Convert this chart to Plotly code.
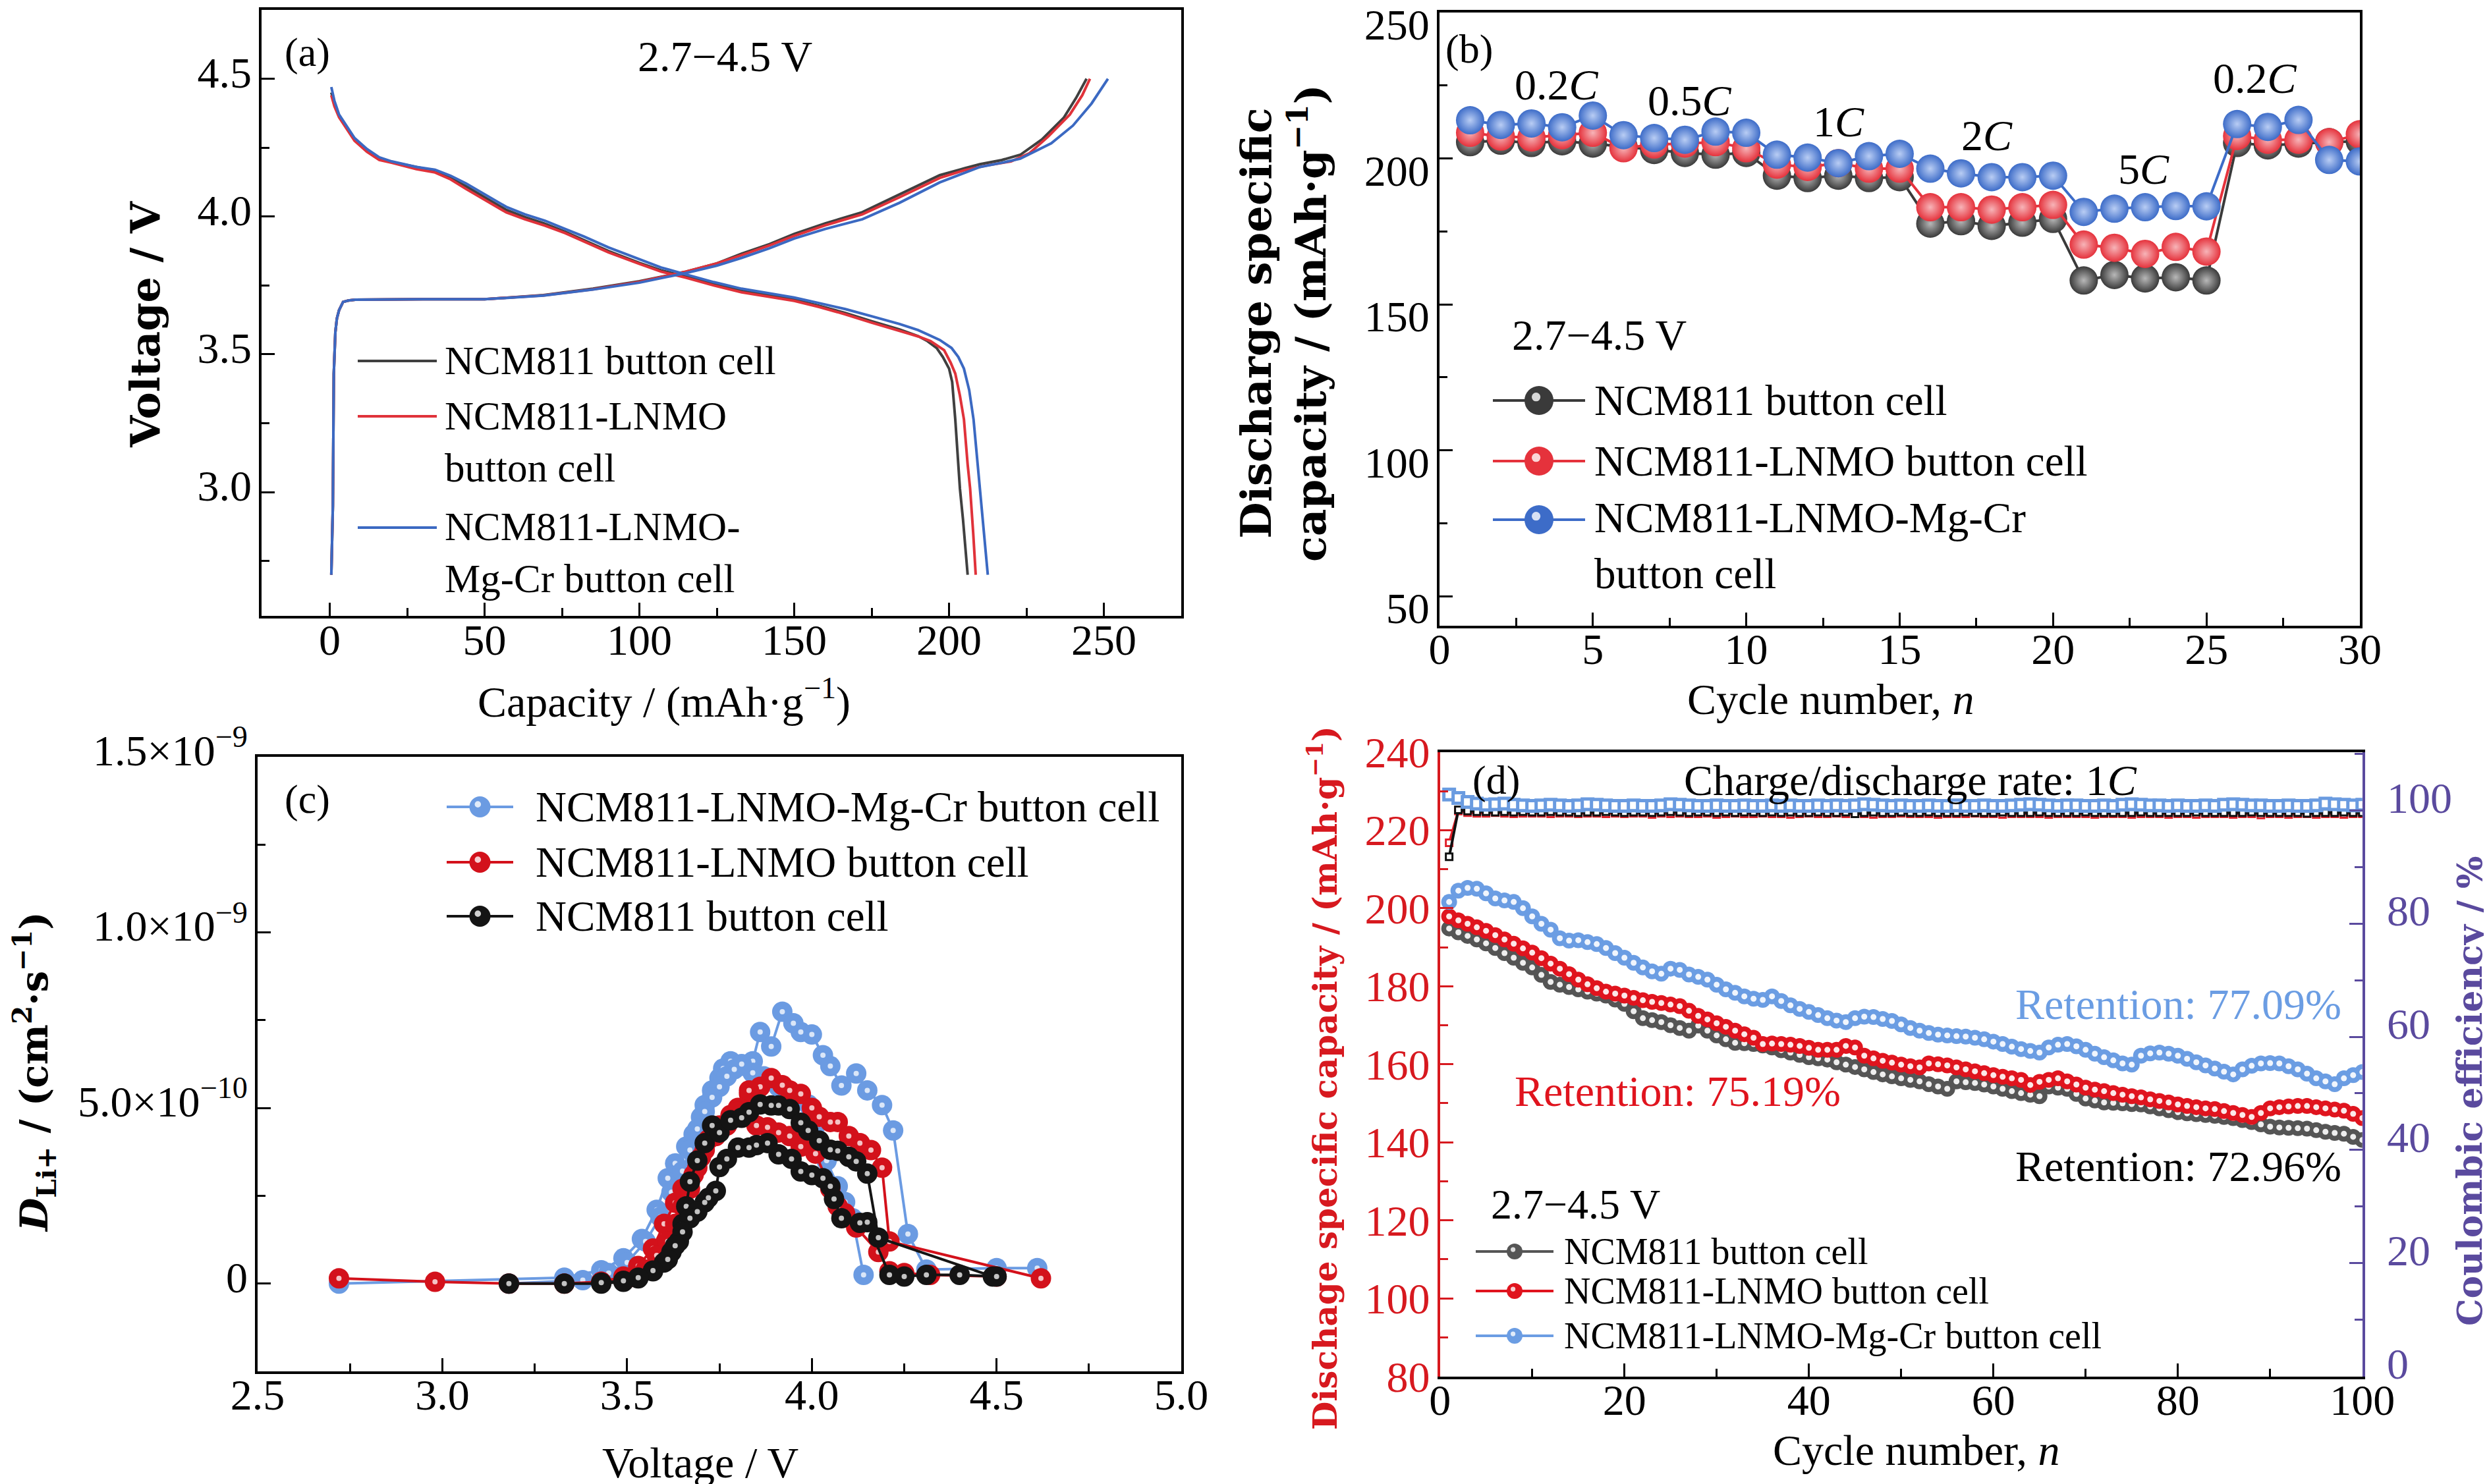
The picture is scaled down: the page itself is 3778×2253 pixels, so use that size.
import plotly.graph_objects as go

W, H = 3778, 2253
SERIF = 'Liberation Serif'
TITLE_FONT = 'DejaVu Serif'

# ---------------- (a) charge / discharge profiles, 2.7-4.5 V ----------------
a_ncm_chg_cap = [0.5, 1.0, 1.3, 1.8, 2.3, 3.0, 4.3, 6.0, 8.2, 15, 30, 50, 69, 85, 100, 115,
                 125, 133, 142, 150, 160, 172, 184, 197, 205, 210, 217, 223, 230, 237, 241, 244.4]
a_ncm_chg_v = [2.70, 2.95, 3.43, 3.58, 3.63, 3.66, 3.69, 3.695, 3.698, 3.699, 3.70, 3.70, 3.715,
               3.738, 3.765, 3.80, 3.83, 3.865, 3.90, 3.937, 3.975, 4.016, 4.08, 4.15, 4.175,
               4.19, 4.205, 4.224, 4.28, 4.358, 4.43, 4.5]
a_lnmo_chg_cap = [0.5, 1.0, 1.3, 1.8, 2.3, 3.0, 4.3, 6.0, 8.2, 15, 30, 50, 69, 85, 100, 115,
                  125, 133, 142, 150, 160, 172, 184, 197, 205, 212, 220, 226, 232, 239, 243, 245.5]
a_lnmo_chg_v = [2.70, 2.95, 3.43, 3.58, 3.63, 3.66, 3.69, 3.695, 3.698, 3.699, 3.70, 3.70, 3.714,
                3.736, 3.763, 3.80, 3.83, 3.86, 3.895, 3.93, 3.968, 4.008, 4.07, 4.14, 4.168,
                4.185, 4.20, 4.23, 4.29, 4.37, 4.44, 4.5]
a_mgcr_chg_cap = [0.5, 1.0, 1.3, 1.8, 2.3, 3.0, 4.3, 6.0, 8.2, 15, 30, 50, 69, 85, 100, 115,
                  125, 133, 142, 150, 160, 172, 184, 197, 205, 210, 217, 223, 233, 240, 246, 251.3]
a_mgcr_chg_v = [2.70, 2.95, 3.43, 3.58, 3.63, 3.66, 3.69, 3.695, 3.698, 3.699, 3.70, 3.70, 3.713,
                3.735, 3.76, 3.795, 3.822, 3.85, 3.885, 3.92, 3.955, 3.99, 4.05, 4.124, 4.16,
                4.18, 4.195, 4.21, 4.266, 4.33, 4.41, 4.5]

a_ncm_dis_cap = [0.5, 1.5, 3, 5, 8, 12, 16, 20, 23.5, 28, 34, 39, 44, 50, 57, 63, 69.5, 76, 82,
                 90, 100, 107, 115, 124, 133, 141, 150, 158, 166.5, 175, 184, 190, 193, 196,
                 198, 200, 201, 202, 203, 203.5, 204.5, 205.3, 206]
a_ncm_dis_v = [4.45, 4.41, 4.366, 4.33, 4.28, 4.24, 4.21, 4.198, 4.19, 4.178, 4.166, 4.14, 4.11,
               4.07, 4.024, 3.998, 3.974, 3.945, 3.915, 3.875, 3.832, 3.805, 3.782, 3.755, 3.73,
               3.715, 3.698, 3.676, 3.65, 3.62, 3.59, 3.566, 3.548, 3.523, 3.49, 3.448, 3.40,
               3.264, 3.10, 3.013, 2.90, 2.80, 2.70]
a_lnmo_dis_cap = [0.5, 1.5, 3, 5, 8, 12, 16, 20, 23.5, 28, 34, 39, 44, 50, 57, 63, 69.5, 76, 82,
                  90, 100, 107, 115, 124, 133, 141, 150, 158, 166.5, 175, 184, 190, 194, 198.4,
                  200.5, 202, 203.5, 204.8, 206, 206.8, 207.8, 208.6]
a_lnmo_dis_v = [4.44, 4.40, 4.36, 4.325, 4.275, 4.235, 4.205, 4.195, 4.185, 4.172, 4.16, 4.135,
                4.10, 4.06, 4.015, 3.99, 3.967, 3.94, 3.91, 3.87, 3.828, 3.80, 3.778, 3.75,
                3.725, 3.71, 3.694, 3.672, 3.645, 3.615, 3.585, 3.565, 3.548, 3.515, 3.47, 3.43,
                3.35, 3.264, 3.10, 3.013, 2.85, 2.70]
a_mgcr_dis_cap = [0.5, 1.5, 3, 5, 8, 12, 16, 20, 23.5, 28, 34, 39, 44, 50, 57, 63, 69.5, 76, 82,
                  90, 100, 107, 115, 124, 133, 141, 150, 158, 166.5, 175, 184, 190, 193, 197,
                  200.8, 203, 204.8, 206.5, 207.9, 209, 210, 211.3, 212.5]
a_mgcr_dis_v = [4.47, 4.42, 4.37, 4.335, 4.285, 4.245, 4.215, 4.20, 4.192, 4.18, 4.17, 4.148,
                4.12, 4.08, 4.035, 4.008, 3.985, 3.955, 3.928, 3.888, 3.845, 3.815, 3.79, 3.762,
                3.738, 3.722, 3.706, 3.686, 3.664, 3.638, 3.61, 3.588, 3.573, 3.552, 3.523,
                3.49, 3.448, 3.37, 3.264, 3.13, 3.013, 2.86, 2.70]

# ---------------- (b) rate capability ----------------
b_cycles = list(range(1, 31))
b_ncm = [205.6, 206.1, 205.3, 205.9, 205.1, 204.0, 202.9, 201.9, 201.3, 201.9,
         194.1, 193.3, 194.1, 193.3, 193.6, 177.7, 178.5, 176.9, 178.0, 179.3,
         158.2, 160.1, 158.9, 159.3, 158.2, 205.3, 204.5, 205.1, 205.6, 205.9]
b_lnmo = [208.8, 207.5, 207.2, 208.0, 208.8, 203.5, 204.8, 205.1, 205.6, 203.5,
          197.9, 197.1, 198.4, 196.5, 196.5, 183.3, 183.3, 182.5, 183.3, 184.1,
          170.5, 169.4, 167.3, 169.7, 168.1, 207.7, 206.4, 206.4, 205.6, 208.3]
b_mgcr = [213.1, 211.5, 212.0, 210.7, 214.7, 208.0, 207.0, 206.4, 209.2, 208.8,
          201.3, 200.3, 198.4, 200.8, 201.6, 196.5, 194.9, 193.6, 193.6, 194.1,
          181.7, 182.8, 183.3, 183.7, 183.6, 211.8, 210.8, 213.2, 199.5, 199.0]
b_rate_labels = ['0.2<i>C</i>', '0.5<i>C</i>', '1<i>C</i>', '2<i>C</i>', '5<i>C</i>', '0.2<i>C</i>']

# ---------------- (c) Li+ diffusion coefficient (x1e-10 cm2/s) ----------------
c_mgcr_chg_v = [2.72, 3.33, 3.43, 3.49, 3.54, 3.58, 3.61, 3.63, 3.66, 3.68, 3.70, 3.71, 3.73,
                3.75, 3.76, 3.78, 3.80, 3.82, 3.84, 3.86, 3.89, 3.92, 3.95, 3.97, 4.00, 4.03,
                4.05, 4.08, 4.12, 4.15, 4.19, 4.22, 4.26, 4.31, 4.50, 4.61]
c_mgcr_chg_d = [0.0, 0.17, 0.38, 0.72, 1.27, 2.10, 3.00, 3.42, 3.90, 4.25, 4.74, 5.08, 5.50,
                5.85, 6.12, 6.33, 6.20, 6.19, 6.33, 7.16, 6.75, 7.74, 7.41, 7.16, 7.09, 6.50,
                6.19, 5.64, 5.98, 5.50, 5.08, 4.36, 1.41, 0.40, 0.44, 0.44]
c_mgcr_dis_v = [4.14, 4.11, 4.09, 4.07, 4.04, 4.01, 3.99, 3.95, 3.91, 3.87, 3.84, 3.81, 3.79,
                3.77, 3.75, 3.73, 3.71, 3.69, 3.67, 3.65, 3.62, 3.59, 3.55, 3.50, 3.45, 3.38, 3.18]
c_mgcr_dis_d = [0.25, 1.86, 2.32, 2.77, 3.5, 4.5, 5.1, 5.4, 5.6, 5.9, 6.0, 6.25, 6.1, 5.9, 5.6,
                5.3, 4.9, 4.4, 3.8, 3.2, 2.6, 1.9, 1.2, 0.6, 0.3, 0.1, 0.0]
c_lnmo_chg_v = [2.72, 2.98, 3.18, 3.33, 3.43, 3.49, 3.53, 3.57, 3.60, 3.63, 3.65, 3.68, 3.70,
                3.72, 3.75, 3.78, 3.80, 3.83, 3.86, 3.89, 3.92, 3.94, 3.97, 4.00, 4.02, 4.05,
                4.07, 4.10, 4.13, 4.16, 4.19, 4.21, 4.62]
c_lnmo_chg_d = [0.15, 0.05, 0.0, 0.0, 0.05, 0.2, 0.5, 1.0, 1.7, 2.3, 2.7, 3.1, 3.6, 4.1, 4.5,
                4.8, 5.0, 5.4, 5.6, 5.85, 5.65, 5.5, 5.4, 5.0, 4.75, 4.6, 4.6, 4.2, 4.0, 3.8,
                3.3, 1.2, 0.15]
c_lnmo_dis_v = [4.50, 4.32, 4.25, 4.21, 4.18, 4.12, 4.09, 4.07, 4.05, 4.01, 3.97, 3.94, 3.91,
                3.88, 3.85, 3.83, 3.80, 3.77, 3.74, 3.71, 3.69, 3.67, 3.65, 3.63, 3.61, 3.58,
                3.55, 3.50, 3.43]
c_lnmo_dis_d = [0.2, 0.25, 0.3, 0.35, 0.9, 1.6, 2.0, 2.2, 2.7, 3.7, 3.9, 4.2, 4.3, 4.45, 4.5,
                5.5, 4.9, 4.5, 4.2, 3.8, 3.3, 2.7, 2.2, 1.7, 1.2, 0.8, 0.4, 0.15, 0.05]
c_ncm_chg_v = [3.18, 3.33, 3.43, 3.49, 3.53, 3.57, 3.60, 3.62, 3.64, 3.65, 3.66, 3.67, 3.69,
               3.71, 3.73, 3.75, 3.78, 3.81, 3.83, 3.86, 3.89, 3.91, 3.94, 3.97, 3.99, 4.02,
               4.05, 4.07, 4.10, 4.12, 4.15, 4.18, 4.49]
c_ncm_chg_d = [0.0, 0.0, 0.0, 0.05, 0.15, 0.35, 0.6, 0.9, 1.2, 1.7, 2.2, 2.9, 3.5, 4.0, 4.5,
               4.3, 4.65, 4.72, 4.88, 5.1, 5.07, 5.07, 4.97, 4.58, 4.36, 4.07, 3.81, 3.78, 3.61,
               3.48, 3.13, 1.31, 0.2]
c_ncm_dis_v = [4.50, 4.40, 4.31, 4.25, 4.21, 4.15, 4.13, 4.08, 4.06, 4.05, 4.03, 4.00, 3.97,
               3.945, 3.91, 3.88, 3.85, 3.83, 3.80, 3.77, 3.75, 3.74, 3.72, 3.71, 3.69, 3.67,
               3.65, 3.63, 3.61, 3.57, 3.53, 3.49, 3.43]
c_ncm_dis_d = [0.2, 0.25, 0.25, 0.2, 0.25, 1.75, 1.73, 1.86, 2.41, 2.77, 3.0, 3.09, 3.19, 3.55,
               3.68, 4.0, 3.94, 3.87, 3.87, 3.55, 3.32, 2.64, 2.44, 2.31, 2.05, 1.86, 1.47,
               1.08, 0.69, 0.37, 0.17, 0.08, 0.03]
c_ytick_vals = [0, 5, 10, 15]
c_ytick_text = ['0', '5.0×10<sup>−10</sup>', '1.0×10<sup>−9</sup>', '1.5×10<sup>−9</sup>']

# ---------------- (d) cycling at 1C ----------------
d_cycles = list(range(1, 101))
d_ncm_cap = [194.8, 193.8, 192.9, 192.0, 191.0, 189.8, 188.5, 187.3, 186.0, 184.8,
             182.9, 181.1, 180.4, 179.8, 179.2, 178.6, 178.1, 177.6, 176.6, 175.5,
             173.6, 171.8, 171.3, 170.8, 170.0, 169.3, 168.6, 169.9, 168.6, 167.4,
             166.4, 165.5, 165.4, 165.2, 164.8, 164.3, 163.6, 163.0, 162.4, 161.8,
             161.5, 161.2, 160.5, 159.9, 159.3, 158.7, 158.0, 157.4, 156.9, 156.4,
             156.0, 155.6, 154.9, 154.3, 153.7, 155.6, 155.4, 155.2, 154.8, 154.3,
             153.7, 153.1, 152.6, 152.2, 151.8, 154.3, 154.0, 153.7, 152.4, 151.2,
             150.7, 150.2, 150.1, 150.0, 149.8, 149.7, 149.2, 148.7, 148.2, 147.7,
             147.4, 147.2, 147.0, 146.8, 146.5, 146.2, 145.7, 145.2, 144.6, 144.0,
             143.8, 143.7, 143.6, 143.5, 143.1, 142.7, 142.4, 142.2, 141.4, 140.6]
d_lnmo_cap = [197.9, 196.9, 196.0, 195.1, 194.2, 193.1, 192.0, 190.9, 189.7, 188.6,
              187.2, 185.8, 184.5, 183.1, 181.7, 180.5, 179.5, 178.6, 178.1, 177.6,
              177.0, 176.4, 176.0, 175.7, 175.3, 174.9, 173.7, 172.4, 171.5, 170.5,
              169.6, 168.6, 167.7, 166.8, 165.2, 165.3, 165.2, 165.0, 164.7, 164.2,
              163.7, 163.7, 163.7, 164.7, 164.3, 162.2, 161.5, 160.9, 160.4, 159.9,
              159.5, 159.2, 160.2, 160.0, 159.7, 159.2, 158.7, 158.2, 157.7, 157.2,
              156.8, 156.4, 156.0, 154.7, 155.5, 156.0, 156.4, 155.6, 154.8, 154.0,
              153.5, 153.1, 152.6, 152.2, 151.8, 151.5, 151.0, 150.6, 150.2, 149.7,
              149.3, 149.0, 148.7, 148.5, 148.0, 147.5, 147.0, 146.5, 147.5, 148.7,
              149.0, 149.2, 149.3, 149.3, 149.0, 148.7, 148.4, 148.1, 147.3, 146.2]
d_mgcr_cap = [201.6, 204.5, 205.2, 205.0, 203.8, 202.5, 202.0, 201.6, 200.0, 197.9,
              196.0, 194.5, 192.3, 191.7, 191.8, 191.3, 190.8, 189.8, 188.5, 187.3,
              186.0, 184.8, 183.8, 183.2, 184.5, 184.2, 183.0, 182.4, 181.7, 180.4,
              179.2, 178.3, 177.4, 176.8, 176.5, 177.4, 176.2, 175.1, 174.2, 173.4,
              172.6, 171.8, 171.2, 170.8, 171.8, 172.2, 172.1, 171.6, 171.1, 170.2,
              169.3, 168.6, 168.0, 167.6, 167.4, 167.2, 167.1, 166.8, 166.4, 165.8,
              165.2, 164.5, 163.9, 163.4, 163.0, 164.3, 165.0, 165.2, 164.6, 163.7,
              162.7, 161.8, 161.0, 160.2, 159.9, 162.2, 162.8, 163.0, 162.7, 162.2,
              161.4, 160.5, 159.7, 158.9, 158.1, 157.4, 158.7, 159.6, 160.2, 160.3,
              160.2, 159.5, 158.7, 157.6, 156.4, 155.6, 154.9, 156.4, 157.2, 158.0]
d_ncm_ce = [91.8, 100.1, 99.9, 99.8, 99.8, 99.7, 99.8, 99.7, 99.8, 99.7,
            99.7, 99.8, 99.7, 99.7, 99.6, 99.7, 99.7, 99.8, 99.7, 99.6,
            99.7, 99.7, 99.6, 99.7, 99.8, 99.7, 99.6, 99.7, 99.7, 99.6,
            99.7, 99.6, 99.7, 99.7, 99.6, 99.7, 99.6, 99.7, 99.6, 99.6,
            99.7, 99.6, 99.6, 99.7, 99.4, 99.6, 99.7, 99.6, 99.6, 99.7,
            99.6, 99.6, 99.7, 99.6, 99.6, 99.6, 99.7, 99.6, 99.6, 99.6,
            99.7, 99.6, 99.6, 99.6, 99.7, 99.6, 99.6, 99.6, 99.6, 99.7,
            99.6, 99.6, 99.6, 99.6, 99.6, 99.7, 99.6, 99.6, 99.6, 99.6,
            99.6, 99.7, 99.6, 99.6, 99.6, 99.6, 99.6, 99.7, 99.6, 99.6,
            99.6, 99.6, 99.6, 99.5, 99.6, 99.6, 99.6, 99.7, 99.6, 99.6]
d_lnmo_ce = [94.3, 99.9, 99.6, 99.5, 99.5, 99.6, 99.5, 99.4, 99.5, 99.5,
             99.5, 99.4, 99.5, 99.5, 99.4, 99.5, 99.5, 99.4, 99.5, 99.4,
             99.5, 99.5, 99.3, 99.5, 99.4, 99.5, 99.4, 99.4, 99.5, 99.3,
             99.4, 99.5, 99.4, 99.4, 99.5, 99.4, 99.4, 99.3, 99.4, 99.5,
             99.4, 99.4, 99.5, 99.4, 99.4, 99.4, 99.3, 99.4, 99.4, 99.5,
             99.4, 99.4, 99.4, 99.3, 99.4, 99.4, 99.4, 99.5, 99.4, 99.4,
             99.3, 99.4, 99.4, 99.4, 99.4, 99.3, 99.4, 99.4, 99.4, 99.4,
             99.3, 99.4, 99.4, 99.4, 99.3, 99.4, 99.4, 99.4, 99.3, 99.4,
             99.4, 99.3, 99.4, 99.4, 99.4, 99.3, 99.4, 99.4, 99.2, 99.4,
             99.4, 99.3, 99.4, 99.4, 99.3, 99.4, 99.4, 99.3, 99.4, 99.4]
d_mgcr_ce = [102.8, 102.2, 101.5, 101.2, 101.0, 101.1, 101.2, 101.0, 100.9, 100.8,
             100.9, 101.0, 100.9, 100.8, 100.9, 101.1, 101.0, 100.9, 100.8, 100.8,
             100.9, 100.8, 100.8, 100.9, 101.1, 101.0, 100.9, 100.8, 100.8, 100.9,
             100.8, 100.8, 100.9, 100.8, 100.8, 100.9, 100.8, 100.9, 100.8, 100.8,
             100.9, 100.8, 100.9, 100.8, 100.9, 101.1, 101.0, 100.9, 100.8, 100.9,
             100.8, 100.8, 100.9, 100.8, 100.8, 100.9, 100.8, 100.8, 100.9, 100.8,
             100.8, 100.9, 101.0, 101.1, 101.0, 100.9, 100.8, 100.9, 100.9, 100.8,
             100.8, 100.9, 100.8, 101.0, 101.1, 101.0, 100.9, 100.9, 100.8, 100.9,
             100.8, 100.8, 100.9, 100.8, 101.0, 101.1, 101.0, 100.9, 100.9, 100.8,
             100.8, 100.9, 100.8, 100.8, 100.9, 101.2, 101.1, 101.0, 100.9, 101.0]

names = ['NCM811 button cell', 'NCM811-LNMO button cell', 'NCM811-LNMO-Mg-Cr button cell']

RED_AX = '#d7191f'
PURPLE = '#5a4a9e'
TICK = 66


def px(x):
    return x / W


def py(y):
    return 1 - y / H


def note(fig, text, x, y, size=66, color='black', xanchor='center', angle=0, bold=False,
         family=SERIF):
    if bold:
        text = '<b>' + text + '</b>'
    fig.add_annotation(text=text, x=px(x), y=py(y), xref='paper', yref='paper',
                       showarrow=False, xanchor=xanchor, yanchor='middle', textangle=angle,
                       align='left' if xanchor == 'left' else 'center',
                       font=dict(family=family, size=size, color=color))


def key(fig, x0, x1, y, color, width=4, msize=0):
    "Legend key drawn in pixels of the page"
    fig.add_shape(type='line', xref='paper', yref='paper', x0=px(x0), x1=px(x1),
                  y0=py(y), y1=py(y), line=dict(color=color, width=width))
    if msize:
        cx = (x0 + x1) / 2
        r = msize / 2
        fig.add_shape(type='circle', xref='paper', yref='paper',
                      x0=px(cx - r), x1=px(cx + r), y0=py(y + r), y1=py(y - r),
                      fillcolor=color, line=dict(width=0))
        h = msize * 0.15
        hx, hy = cx - msize * 0.1, y - msize * 0.12
        fig.add_shape(type='circle', xref='paper', yref='paper',
                      x0=px(hx - h), x1=px(hx + h), y0=py(hy + h), y1=py(hy - h),
                      fillcolor='rgba(255,255,255,0.8)', line=dict(width=0))


def axis(is_x, **kw):
    base = dict(showline=True, linewidth=4, linecolor='black', mirror=True,
                ticks='inside', ticklen=20, tickwidth=3, tickcolor='black',
                showgrid=False, zeroline=False, automargin=False,
                ticklabelstandoff=-25 if is_x else -2, ticklabeloverflow='allow',
                tickfont=dict(family=SERIF, size=TICK, color='black'))
    base.update(kw)
    return base


def minor(dtick, color='black'):
    return dict(ticks='inside', ticklen=12, tickwidth=3, tickcolor=color, dtick=dtick,
                showgrid=False)


fig = go.Figure()

# (a)
a_colors = ['#404040', '#e0323a', '#3b69c2']
a_curves = [(a_ncm_chg_cap, a_ncm_chg_v, a_ncm_dis_cap, a_ncm_dis_v),
            (a_lnmo_chg_cap, a_lnmo_chg_v, a_lnmo_dis_cap, a_lnmo_dis_v),
            (a_mgcr_chg_cap, a_mgcr_chg_v, a_mgcr_dis_cap, a_mgcr_dis_v)]
for (cc, cv, dc, dv), col, nm in zip(a_curves, a_colors, names):
    fig.add_trace(go.Scatter(x=cc, y=cv, mode='lines', line=dict(color=col, width=4),
                             name=nm, xaxis='x', yaxis='y', showlegend=False))
    fig.add_trace(go.Scatter(x=dc, y=dv, mode='lines', line=dict(color=col, width=4),
                             name=nm, xaxis='x', yaxis='y', showlegend=False))

# (b)
b_colors = ['#3a3a3a', '#e5323c', '#3d6cc8']
b_shine = ['#b8b8b8', '#f7b4b8', '#b9cdf4']
for vals, col, sh, nm in zip([b_ncm, b_lnmo, b_mgcr], b_colors, b_shine, names):
    fig.add_trace(go.Scatter(x=b_cycles, y=vals, mode='lines+markers', name=nm,
                             line=dict(color=col, width=4),
                             marker=dict(size=43, color=col, line=dict(width=0),
                                         gradient=dict(type='radial', color=sh)),
                             xaxis='x2', yaxis='y2', showlegend=False))

# (c)
c_colors = ['#6b9be2', '#d3111b', '#141414']
c_sets = [(c_mgcr_chg_v, c_mgcr_chg_d, c_mgcr_dis_v, c_mgcr_dis_d),
          (c_lnmo_chg_v, c_lnmo_chg_d, c_lnmo_dis_v, c_lnmo_dis_d),
          (c_ncm_chg_v, c_ncm_chg_d, c_ncm_dis_v, c_ncm_dis_d)]
for (v1, d1, v2, d2), col, nm in zip(c_sets, c_colors, names[::-1]):
    for vv, dd in [(v1, d1), (v2, d2)]:
        fig.add_trace(go.Scatter(x=vv, y=dd, mode='lines+markers', name=nm,
                                 line=dict(color=col, width=4),
                                 marker=dict(size=31, color=col, line=dict(width=0)),
                                 xaxis='x3', yaxis='y3', showlegend=False))
        fig.add_trace(go.Scatter(x=vv, y=dd, mode='markers', hoverinfo='skip',
                                 marker=dict(size=8, color='rgba(255,255,255,0.75)'),
                                 xaxis='x3', yaxis='y3', showlegend=False))

# (d) coulombic efficiency on the right axis (red under black under blue)
d_ce_colors = ['#111111', '#e0202a', '#6a9be0']
for vals, col in zip([d_lnmo_ce, d_ncm_ce], [d_ce_colors[1], d_ce_colors[0]]):
    fig.add_trace(go.Scatter(x=d_cycles, y=vals, mode='lines+markers',
                             line=dict(color=col, width=4),
                             marker=dict(symbol='square', size=10, color='white',
                                         line=dict(color=col, width=3)),
                             xaxis='x4', yaxis='y5', showlegend=False))
fig.add_trace(go.Scatter(x=d_cycles, y=d_mgcr_ce, mode='lines+markers',
                         line=dict(color=d_ce_colors[2], width=6),
                         marker=dict(symbol='square', size=16, color='white',
                                     line=dict(color=d_ce_colors[2], width=5)),
                         xaxis='x4', yaxis='y5', showlegend=False))

# (d) discharge capacity
d_colors = ['#555555', '#e0141e', '#6b9de3']
for vals, col, nm in zip([d_ncm_cap, d_lnmo_cap, d_mgcr_cap], d_colors, names):
    fig.add_trace(go.Scatter(x=d_cycles, y=vals, mode='lines+markers', name=nm,
                             line=dict(color=col, width=3),
                             marker=dict(size=24, color=col, line=dict(width=0)),
                             xaxis='x4', yaxis='y4', showlegend=False))
    fig.add_trace(go.Scatter(x=d_cycles, y=vals, mode='markers', hoverinfo='skip',
                             marker=dict(size=9, color='rgba(255,255,255,0.9)'),
                             xaxis='x4', yaxis='y4', showlegend=False))

fig.update_layout(
    width=W, height=H, margin=dict(l=0, r=0, t=0, b=0, autoexpand=False),
    paper_bgcolor='white', plot_bgcolor='white',
    font=dict(family=SERIF, size=62, color='black'),
    xaxis=axis(True, domain=[0.103, 0.4725], range=[-22, 275], dtick=50, tick0=0,
               minor=minor(25), anchor='y'),
    yaxis=axis(False, domain=[0.5884, 0.9969], range=[2.55, 4.75], dtick=0.5, tick0=3.0,
               tickformat='.1f', minor=minor(0.25), ticklabelshift=-10, anchor='x'),
    xaxis2=axis(True, domain=[0.5762, 0.946], range=[0, 30], dtick=5, tick0=0,
                minor=minor(2.5), anchor='y2'),
    yaxis2=axis(False, domain=[0.5821, 0.9951], range=[40, 250], dtick=50, tick0=0,
                minor=minor(25), ticklabelshift=18, anchor='x2'),
    xaxis3=axis(True, domain=[0.1014, 0.4725], range=[2.5, 5.0], dtick=0.5, tick0=2.5,
                tickformat='.1f', minor=minor(0.25), anchor='y3'),
    yaxis3=axis(False, domain=[0.0794, 0.4937], range=[-2.5, 15], tickmode='array',
                tickvals=c_ytick_vals, ticktext=c_ytick_text, ticklabelshift=-10,
                minor=dict(ticks='inside', ticklen=12, tickwidth=3, tickcolor='black',
                           tickvals=[2.5, 7.5, 12.5]), anchor='x3'),
    xaxis4=axis(True, domain=[0.5764, 0.947], range=[0, 100], dtick=20, tick0=0,
                minor=minor(10), anchor='y4'),
    yaxis4=axis(False, domain=[0.0761, 0.4967], range=[80, 240], dtick=20, tick0=0,
                minor=minor(10, RED_AX), mirror=False, linecolor=RED_AX, tickcolor=RED_AX,
                tickfont=dict(family=SERIF, size=TICK, color=RED_AX), anchor='x4'),
    yaxis5=axis(False, overlaying='y4', side='right', range=[0, 110.3], dtick=20, tick0=0,
                minor=minor(10, PURPLE), mirror=False, linecolor=PURPLE, tickcolor=PURPLE,
                ticklabelstandoff=20, ticklabelshift=-20,
                tickfont=dict(family=SERIF, size=TICK, color=PURPLE), anchor='x4'),
)

# ---- panel texts ----
# (a)
note(fig, '(a)', 458, 72, size=62)
note(fig, '2.7−4.5 V', 1092, 77)
note(fig, 'Capacity / (mAh·g<sup>−1</sup>)', 1000, 1053)
note(fig, 'Voltage / V', 212, 485, size=62, angle=-90, bold=True, family=TITLE_FONT)
a_rows = [540, 624, 793]
a_text_y = [540, 663, 831]
a_labels = ['NCM811 button cell', 'NCM811-LNMO<br>button cell',
            'NCM811-LNMO-<br>Mg-Cr button cell']
for ry, ty, col, lab in zip(a_rows, a_text_y, a_colors, a_labels):
    key(fig, 535, 655, ry, col)
    note(fig, lab, 665, ty, size=61, xanchor='left')

# (b)
note(fig, '(b)', 2222, 67, size=62)
for lab, (x, y) in zip(b_rate_labels, [(2355, 120), (2557, 145), (2783, 176), (3008, 198),
                                       (3246, 248), (3415, 111)]):
    note(fig, lab, x, y)
note(fig, '2.7−4.5 V', 2285, 501, xanchor='left')
note(fig, 'Cycle number, <i>n</i>', 2770, 1053)
note(fig, 'Discharge specific<br>capacity / (mAh·g<sup>−1</sup>)', 1940, 482, size=64,
     angle=-90, bold=True, family=TITLE_FONT)
b_rows = [600, 692, 781]
b_text_y = [600, 692, 820]
b_labels = [names[0], names[1], 'NCM811-LNMO-Mg-Cr<br>button cell']
for ry, ty, col, lab in zip(b_rows, b_text_y, b_colors, b_labels):
    key(fig, 2258, 2398, ry, col, msize=44)
    note(fig, lab, 2410, ty, size=65, xanchor='left')

# (c)
note(fig, '(c)', 458, 1205, size=62)
note(fig, 'Voltage / V', 1055, 2212)
note(fig, '<i>D</i><sub>Li+</sub> / (cm<sup>2</sup>·s<sup>−1</sup>)', 44, 1620, size=58,
     angle=-90, bold=True, family=TITLE_FONT)
for ry, col, lab in zip([1217, 1301, 1383], c_colors, names[::-1]):
    key(fig, 670, 771, ry, col, width=4, msize=32)
    note(fig, lab, 803, ry, size=65, xanchor='left')

# (d)
note(fig, '(d)', 2263, 1176, size=62)
note(fig, 'Charge/discharge rate: 1<i>C</i>', 2892, 1176)
note(fig, 'Retention: 77.09%', 3548, 1516, color='#6b9de3', xanchor='right')
note(fig, 'Retention: 75.19%', 2538, 1648, color='#e0141e')
note(fig, 'Retention: 72.96%', 3548, 1762, xanchor='right')
note(fig, '2.7−4.5 V', 2253, 1820, size=64, xanchor='left')
note(fig, 'Cycle number, <i>n</i>', 2900, 2193)
note(fig, 'Dischage specific capacity / (mAh·g<sup>−1</sup>)', 2000, 1629, size=50,
     color=RED_AX, angle=-90, bold=True, family=TITLE_FONT)
note(fig, 'Coulombic efficiency / %', 3740, 1648, size=52, color=PURPLE, angle=-90,
     bold=True, family=TITLE_FONT)
for ry, col, lab in zip([1892, 1952, 2020], d_colors, names):
    key(fig, 2232, 2350, ry, col, width=4, msize=24)
    note(fig, lab, 2364, ry, size=56, xanchor='left')

fig.write_html("out.html")
